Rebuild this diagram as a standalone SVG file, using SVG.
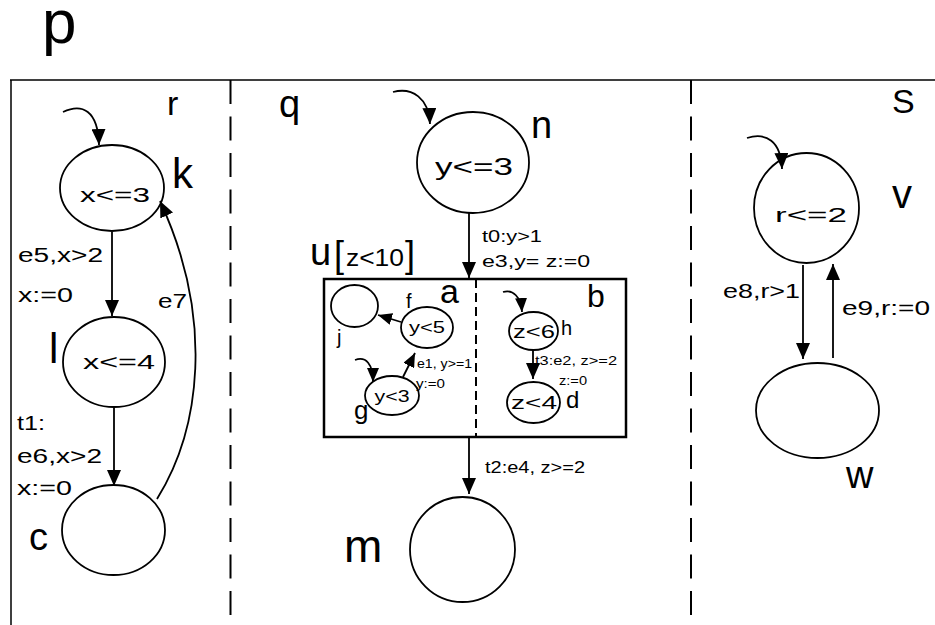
<svg xmlns="http://www.w3.org/2000/svg" width="935" height="625" viewBox="0 0 935 625">
<style>
text{font-family:"Liberation Sans",Arial,sans-serif;fill:#000}
.node{fill:none;stroke:#000;stroke-width:1.8}
.edge{fill:none;stroke:#000;stroke-width:1.8}
.init{fill:none;stroke:#000;stroke-width:1.8}
.frame{fill:none;stroke:#000;stroke-width:1.5}
.dash{fill:none;stroke:#000;stroke-width:2;stroke-dasharray:24 12.5}
.inv{font-size:21px;text-anchor:middle}
.lbl{font-size:20px}
.big{font-size:38px}
</style>
<defs>
<marker id="ah" markerUnits="userSpaceOnUse" markerWidth="16" markerHeight="14" refX="16" refY="7" orient="auto">
<path d="M0,0 L16,7 L0,14 z" fill="#000"/>
</marker>
<marker id="ahs" markerUnits="userSpaceOnUse" markerWidth="14" markerHeight="12" refX="14" refY="6" orient="auto">
<path d="M0,0 L14,6 L0,12 z" fill="#000"/>
</marker>
</defs>

<text x="42" y="43" style="font-size:62px">p</text>
<g id="frame">
<path class="frame" d="M10,80 H935 M11,80 V625"/>
<path class="dash" d="M230.5,80 V625"/>
<path class="dash" d="M691,80 V625"/>
</g>

<text x="167" y="115" style="font-size:34px">r</text>
<text x="279" y="117" class="big">q</text>
<text x="892" y="113" style="font-size:34px">S</text>

<g id="connectors">
<path class="init" d="M63,112 C82,103 98,110 99,145" marker-end="url(#ah)"/>
<path class="edge" d="M112,232 V316" marker-end="url(#ah)"/>
<path class="edge" d="M114,407 V486" marker-end="url(#ah)"/>
<path class="edge" d="M157,499 C200,430 215,320 160,201" marker-end="url(#ah)"/>
<path class="init" d="M393,92 C412,87 429,98 430,124" marker-end="url(#ah)"/>
<path class="edge" d="M469,213 V278" marker-end="url(#ah)"/>
<path class="edge" d="M469,437 V494" marker-end="url(#ah)"/>
<path class="edge" d="M401,322 L378,315" marker-end="url(#ahs)"/>
<path class="init" d="M355,360 C366,356 373,364 373,382" marker-end="url(#ahs)"/>
<path class="edge" d="M403,377 L415,353" marker-end="url(#ahs)"/>
<path class="init" d="M503,292 C513,289 521,297 522,312" marker-end="url(#ahs)"/>
<path class="edge" d="M533,350 V379" marker-end="url(#ah)"/>
<path class="init" d="M747,138 C766,132 781,141 782,169" marker-end="url(#ah)"/>
<path class="edge" d="M803,265 V359" marker-end="url(#ah)"/>
<path class="edge" d="M833,358 V264" marker-end="url(#ah)"/>
</g>

<g id="edge-labels">
<text x="18" y="262" class="lbl" textLength="85" lengthAdjust="spacingAndGlyphs">e5,x&gt;2</text>
<text x="18" y="302" class="lbl" textLength="55" lengthAdjust="spacingAndGlyphs">x:=0</text>
<text x="158" y="308" class="lbl" textLength="29" lengthAdjust="spacingAndGlyphs">e7</text>
<text x="17" y="430" class="lbl" textLength="28" lengthAdjust="spacingAndGlyphs">t1:</text>
<text x="17" y="463" class="lbl" textLength="85" lengthAdjust="spacingAndGlyphs">e6,x&gt;2</text>
<text x="17" y="495" class="lbl" textLength="55" lengthAdjust="spacingAndGlyphs">x:=0</text>
<text x="482" y="242" style="font-size:16px" textLength="60" lengthAdjust="spacingAndGlyphs">t0:y&gt;1</text>
<text x="482" y="267" style="font-size:16px" textLength="108" lengthAdjust="spacingAndGlyphs">e3,y= z:=0</text>
<text x="417" y="368" style="font-size:12px" textLength="55" lengthAdjust="spacingAndGlyphs">e1, y&gt;=1</text>
<text x="416" y="388" style="font-size:12px" textLength="29" lengthAdjust="spacingAndGlyphs">y:=0</text>
<text x="535" y="365" style="font-size:12px" textLength="82" lengthAdjust="spacingAndGlyphs">t3:e2, z&gt;=2</text>
<text x="559" y="385" style="font-size:12px" textLength="28" lengthAdjust="spacingAndGlyphs">z:=0</text>
<text x="485" y="473" style="font-size:16px" textLength="100" lengthAdjust="spacingAndGlyphs">t2:e4, z&gt;=2</text>
<text x="723" y="298" style="font-size:21px" textLength="77" lengthAdjust="spacingAndGlyphs">e8,r&gt;1</text>
<text x="842" y="315" style="font-size:21px" textLength="88" lengthAdjust="spacingAndGlyphs">e9,r:=0</text>
</g>

<g id="k">
<ellipse class="node" cx="112" cy="188" rx="52" ry="43"/>
<text x="115" y="202" class="inv" textLength="70" lengthAdjust="spacingAndGlyphs">x&lt;=3</text>
<text x="172" y="188" style="font-size:42px">k</text>
</g>
<g id="l">
<ellipse class="node" cx="114" cy="362" rx="51" ry="45"/>
<text x="119" y="369" class="inv" textLength="72" lengthAdjust="spacingAndGlyphs">x&lt;=4</text>
<text x="49" y="363" style="font-size:42px">l</text>
</g>
<g id="c">
<ellipse class="node" cx="113.5" cy="530" rx="51.5" ry="45"/>
<text x="29" y="550" class="big">c</text>
</g>

<g id="n">
<ellipse class="node" cx="473" cy="162.5" rx="56" ry="50.5"/>
<text x="474" y="175" class="inv" style="font-size:23px" textLength="78" lengthAdjust="spacingAndGlyphs">y&lt;=3</text>
<text x="531" y="138" class="big">n</text>
</g>

<g id="u">
<rect x="324" y="279" width="302" height="158" fill="none" stroke="#000" stroke-width="2.5"/>
<path d="M476,279 V437" fill="none" stroke="#000" stroke-width="2" stroke-dasharray="9 5"/>
<text x="310" y="265" class="big">u</text>
<text x="334" y="267" style="font-size:36px">[</text>
<text x="346" y="266" style="font-size:24px" textLength="58" lengthAdjust="spacingAndGlyphs">z&lt;10</text>
<text x="405" y="267" style="font-size:36px">]</text>
<text x="440" y="303" style="font-size:34px">a</text>
<text x="587" y="307" style="font-size:32px">b</text>
</g>
<g id="j">
<ellipse class="node" cx="354.5" cy="306" rx="23.5" ry="21"/>
<text x="337" y="344" style="font-size:20px">j</text>
</g>
<g id="f">
<ellipse class="node" cx="427" cy="327.5" rx="26" ry="20.5"/>
<text x="427" y="333" class="inv" style="font-size:17px" textLength="36" lengthAdjust="spacingAndGlyphs">y&lt;5</text>
<text x="406" y="308" style="font-size:20px">f</text>
</g>
<g id="g">
<ellipse class="node" cx="392" cy="395.5" rx="27" ry="19.5"/>
<text x="392" y="402" class="inv" style="font-size:17px" textLength="35" lengthAdjust="spacingAndGlyphs">y&lt;3</text>
<text x="354" y="419" style="font-size:26px">g</text>
</g>
<g id="h">
<ellipse class="node" cx="533.5" cy="331" rx="24.5" ry="19"/>
<text x="534" y="338" class="inv" style="font-size:18px" textLength="42" lengthAdjust="spacingAndGlyphs">z&lt;6</text>
<text x="561" y="335" style="font-size:20px">h</text>
</g>
<g id="d">
<ellipse class="node" cx="533.5" cy="402.5" rx="26.5" ry="20.5"/>
<text x="534" y="409" class="inv" style="font-size:19px" textLength="46" lengthAdjust="spacingAndGlyphs">z&lt;4</text>
<text x="566" y="408" style="font-size:24px">d</text>
</g>

<g id="m">
<circle class="node" cx="462.5" cy="549.5" r="52.5"/>
<text x="344" y="562" style="font-size:46px">m</text>
</g>

<g id="v">
<ellipse class="node" cx="806.5" cy="208" rx="52.5" ry="55"/>
<text x="811" y="222" class="inv" textLength="72" lengthAdjust="spacingAndGlyphs">r&lt;=2</text>
<text x="892" y="208" style="font-size:40px">v</text>
</g>
<g id="w">
<ellipse class="node" cx="817.5" cy="410.5" rx="61.5" ry="47.5"/>
<text x="846" y="488" class="big">w</text>
</g>
</svg>
